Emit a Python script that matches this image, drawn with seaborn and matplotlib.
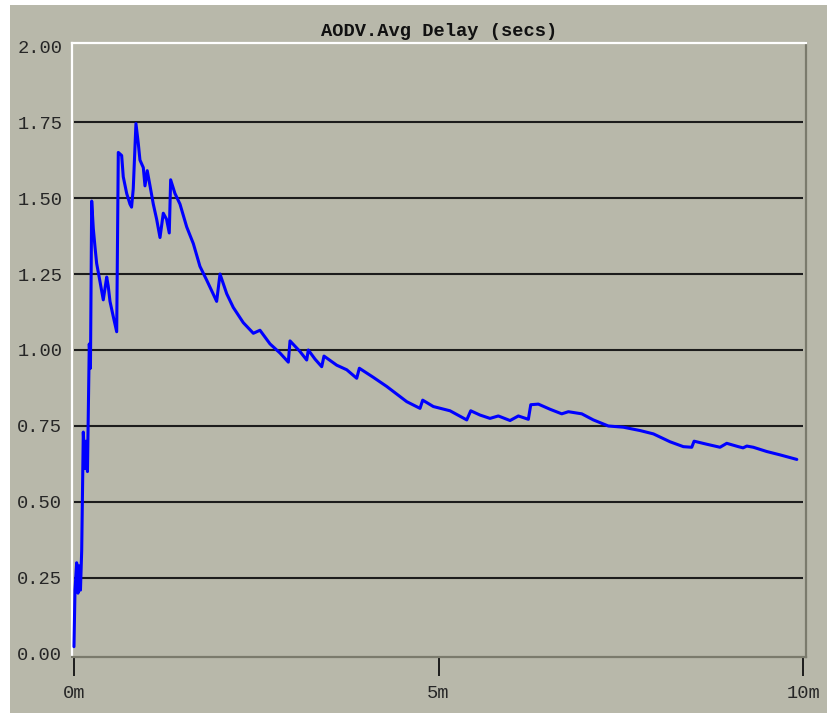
import matplotlib
matplotlib.use("Agg")
import matplotlib.pyplot as plt
import pandas as pd
import seaborn as sns
from matplotlib.patches import Rectangle

# simulation time (minutes) and AODV average delay (secs)
time_min = [
    0.00, 0.014, 0.037, 0.055, 0.069, 0.089, 0.106, 0.128, 0.151, 0.165,
    0.185, 0.21, 0.226, 0.243, 0.265, 0.288, 0.311, 0.357, 0.402, 0.449,
    0.47, 0.494, 0.539, 0.586, 0.608, 0.654, 0.676, 0.723, 0.768, 0.79,
    0.813, 0.85, 0.882, 0.905, 0.951, 0.974, 1.005, 1.043, 1.088, 1.134,
    1.18, 1.225, 1.27, 1.307, 1.326, 1.385, 1.454, 1.546, 1.637, 1.728,
    1.82, 1.957, 2.003, 2.095, 2.185, 2.322, 2.46, 2.551, 2.689, 2.826,
    2.94, 2.963, 3.10, 3.192, 3.214, 3.306, 3.398, 3.429, 3.604, 3.741,
    3.878, 3.914, 4.106, 4.29, 4.564, 4.746, 4.783, 4.929, 5.158, 5.387,
    5.442, 5.569, 5.706, 5.82, 5.981, 6.095, 6.232, 6.265, 6.369, 6.53,
    6.69, 6.781, 6.965, 7.123, 7.329, 7.535, 7.764, 7.947, 8.176, 8.358,
    8.473, 8.505, 8.679, 8.861, 8.953, 9.112, 9.177, 9.228, 9.318, 9.502,
    9.684, 9.914,
]
avg_delay = [
    0.024, 0.21, 0.30, 0.20, 0.29, 0.21, 0.34, 0.73, 0.61, 0.70,
    0.60, 1.02, 0.94, 1.49, 1.40, 1.34, 1.285, 1.225, 1.165, 1.24,
    1.21, 1.16, 1.11, 1.06, 1.65, 1.64, 1.57, 1.515, 1.48, 1.47,
    1.53, 1.745, 1.68, 1.625, 1.60, 1.54, 1.59, 1.54, 1.48, 1.43,
    1.37, 1.45, 1.43, 1.385, 1.56, 1.515, 1.48, 1.405, 1.35, 1.275,
    1.23, 1.16, 1.25, 1.185, 1.14, 1.09, 1.055, 1.065, 1.02, 0.99,
    0.96, 1.03, 0.995, 0.967, 1.00, 0.97, 0.945, 0.98, 0.95, 0.935,
    0.907, 0.94, 0.91, 0.88, 0.83, 0.808, 0.835, 0.814, 0.80, 0.77,
    0.80, 0.786, 0.775, 0.783, 0.768, 0.783, 0.772, 0.82, 0.822, 0.805,
    0.79, 0.797, 0.79, 0.77, 0.75, 0.746, 0.735, 0.724, 0.698, 0.682,
    0.68, 0.70, 0.69, 0.68, 0.693, 0.682, 0.678, 0.684, 0.68, 0.666,
    0.655, 0.64,
]
y_ticks = [0.00, 0.25, 0.50, 0.75, 1.00, 1.25, 1.50, 1.75, 2.00]
x_ticks = [0, 5, 10]
x_labels = ["0m", "5m", "10m"]

df = pd.DataFrame({"t": time_min, "delay": avg_delay})

bg = "#b8b8aa"
mono = ["Liberation Mono", "DejaVu Sans Mono"]

sns.set_style("white")
plt.rcParams["font.family"] = mono

fig = plt.figure(figsize=(8.27, 7.15), dpi=100, facecolor="white")
frame = Rectangle((10 / 827, 2 / 715), 1, 708 / 715,
                  transform=fig.transFigure, facecolor=bg,
                  edgecolor="none", zorder=-10)
fig.add_artist(frame)
ax = fig.add_axes([72 / 827, 58 / 715, 734 / 827, 614 / 715])
ax.set_facecolor(bg)

# horizontal rules only between 0.25 and 1.75, spanning 0m..10m
ax.hlines(y_ticks[1:-1], 0, 10, colors="#1c1c1c", linewidth=1.5, zorder=1)

sns.lineplot(data=df, x="t", y="delay", ax=ax, color="#0000ff",
             linewidth=2.2, estimator=None, sort=False, zorder=3)

ax.set_xlim(-0.027, 10.04)
ax.set_ylim(-0.01, 2.01)
ax.set_xticks(x_ticks)
ax.set_xticklabels(x_labels)
ax.set_yticks(y_ticks)
ax.set_yticklabels([f"{v:.2f}" for v in y_ticks])
ax.set_xlabel("")
ax.set_ylabel("")

ax.tick_params(axis="x", direction="out", length=14, width=1.4,
               color="#1c1c1c", pad=6, labelsize=13.5, bottom=True)
ax.tick_params(axis="y", length=0, pad=7, labelsize=13.5)

for side in ["top", "left"]:
    ax.spines[side].set_color("white")
    ax.spines[side].set_linewidth(1.6)
for side in ["right", "bottom"]:
    ax.spines[side].set_color("#7a7a6c")
    ax.spines[side].set_linewidth(1.6)

ax.set_title("AODV.Avg Delay (secs)", fontsize=13.5, fontweight="bold",
             pad=5, color="#111111")

fig.savefig("out.png", dpi=100, facecolor=fig.get_facecolor())
